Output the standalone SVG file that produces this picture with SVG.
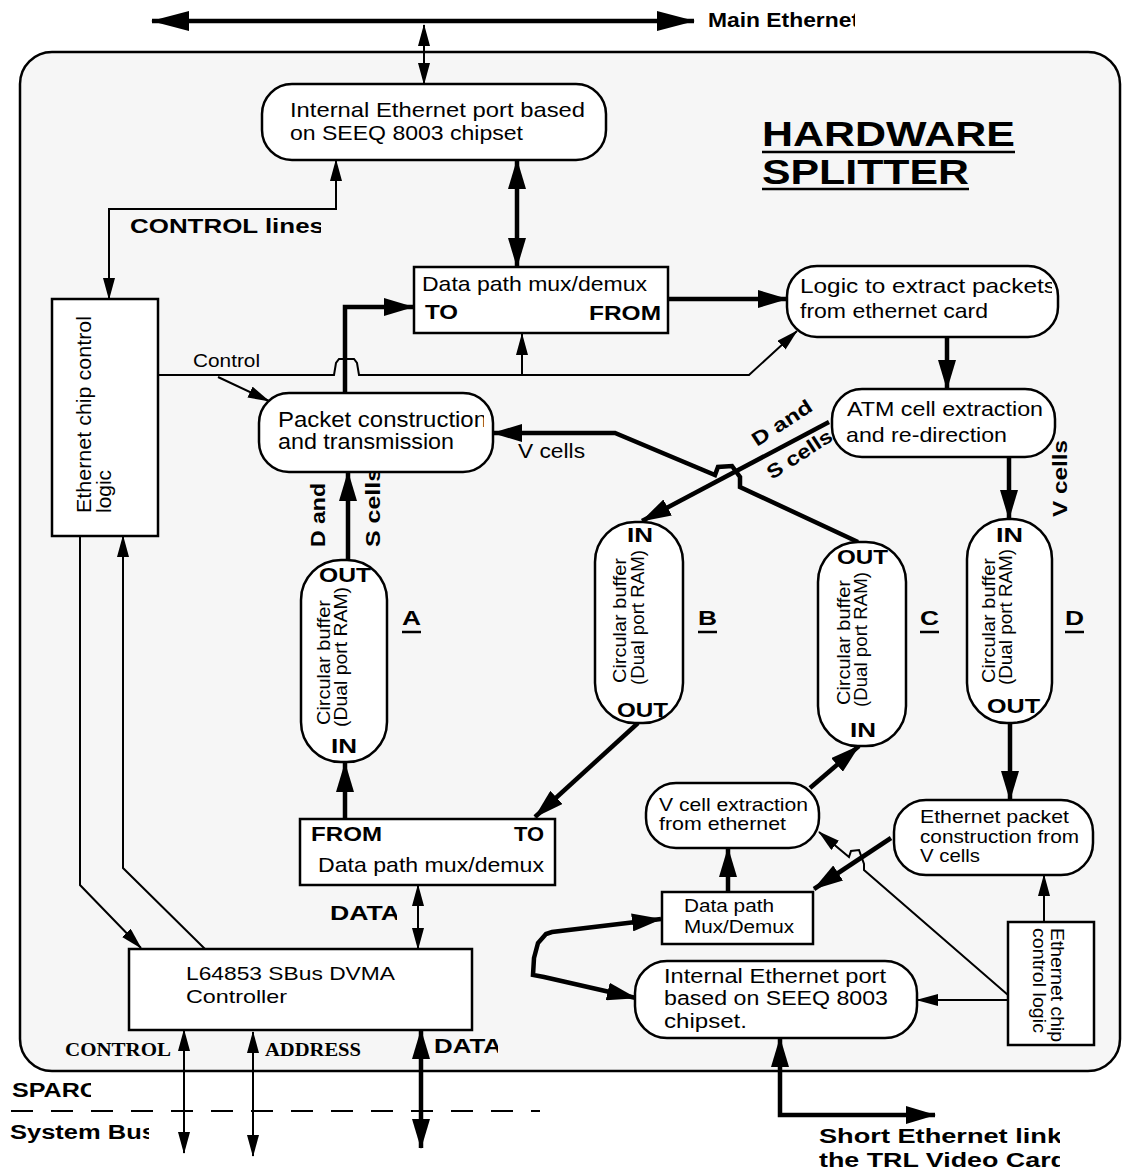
<svg xmlns="http://www.w3.org/2000/svg" width="1122" height="1173" viewBox="0 0 1122 1173">
<style>
.n{fill:#fff;stroke:#000;stroke-width:2.5}
.t{font-family:"Liberation Sans",Arial,sans-serif;font-size:21px;fill:#000}
.m{font-family:"Liberation Sans",Arial,sans-serif;font-size:18.5px;fill:#000}
.b{font-family:"Liberation Sans",Arial,sans-serif;font-weight:bold;font-size:19.5px;fill:#000}
.s{font-family:"Liberation Serif","Times New Roman",serif;font-weight:bold;font-size:18px;fill:#000}
.k{fill:none;stroke:#000;stroke-width:4.5}
.w{fill:none;stroke:#000;stroke-width:2}
.ul{stroke:#000;stroke-width:2.5}
</style>
<defs>
<marker id="mT" viewBox="0 0 30 18" markerWidth="30" markerHeight="18" refX="29" refY="9" markerUnits="userSpaceOnUse" orient="auto-start-reverse"><path d="M0,0 L30,9 L0,18 Z"/></marker>
<marker id="mt" viewBox="0 0 22 12" markerWidth="22" markerHeight="12" refX="21" refY="6" markerUnits="userSpaceOnUse" orient="auto-start-reverse"><path d="M0,0 L22,6 L0,12 Z"/></marker>
<marker id="mB" viewBox="0 0 38 20" markerWidth="38" markerHeight="20" refX="37" refY="10" markerUnits="userSpaceOnUse" orient="auto-start-reverse"><path d="M0,0 L38,10 L0,20 Z"/></marker>
<clipPath id="c1"><rect x="700" y="0" width="155" height="40"/></clipPath>
<clipPath id="c2"><rect x="120" y="210" width="201" height="30"/></clipPath>
<clipPath id="c3"><rect x="790" y="270" width="262" height="30"/></clipPath>
<clipPath id="c4"><rect x="265" y="405" width="219" height="30"/></clipPath>
<clipPath id="c5"><rect x="320" y="900" width="77" height="30"/></clipPath>
<clipPath id="c6"><rect x="425" y="1030" width="73" height="30"/></clipPath>
<clipPath id="c7"><rect x="0" y="1075" width="91" height="30"/></clipPath>
<clipPath id="c8"><rect x="0" y="1115" width="149" height="30"/></clipPath>
<clipPath id="c9"><rect x="810" y="1120" width="250" height="53"/></clipPath>
</defs>
<rect width="1122" height="1173" fill="#fff"/>

<g id="splitter">
<rect x="20" y="52" width="1100" height="1019" rx="32" fill="#f6f6f6" stroke="#000" stroke-width="2.5"/>
<text class="b" x="762" y="146" style="font-size:35px" textLength="253" lengthAdjust="spacingAndGlyphs">HARDWARE</text>
<line class="ul" x1="762" y1="152" x2="1015" y2="152" stroke-width="3"/>
<text class="b" x="762" y="184" style="font-size:35px" textLength="207" lengthAdjust="spacingAndGlyphs">SPLITTER</text>
<line class="ul" x1="762" y1="189" x2="969" y2="189" stroke-width="3"/>
</g>

<g id="connectors">
<line class="k" x1="152" y1="21" x2="694" y2="21" marker-start="url(#mB)" marker-end="url(#mB)"/>
<line class="w" x1="424" y1="25" x2="424" y2="84" marker-start="url(#mt)" marker-end="url(#mt)"/>
<line class="k" x1="517" y1="160" x2="517" y2="267" marker-start="url(#mT)" marker-end="url(#mT)"/>
<polyline class="w" points="336,160 336,209 109,209 109,299" marker-start="url(#mt)" marker-end="url(#mt)"/>
<polyline class="k" points="345,393 345,307 413,307" marker-end="url(#mT)"/>
<line class="k" x1="668" y1="299" x2="787" y2="299" marker-end="url(#mT)"/>
<line class="k" x1="947" y1="337" x2="947" y2="389" marker-end="url(#mT)"/>
<path class="w" d="M158,375 L334,375 L336,363 L339,359 L354,359 L357,363 L359,375 L749,375 L797,331" marker-end="url(#mt)"/>
<line class="w" x1="522" y1="375" x2="522" y2="334" marker-end="url(#mt)"/>
<line class="w" x1="218" y1="377" x2="269" y2="401" marker-end="url(#mt)"/>
<polyline class="k" points="858,542 740,487 740,477 732,466 718,467 715,475 615,433 493,433" marker-end="url(#mT)"/>
<line class="k" x1="829" y1="422" x2="642" y2="521" marker-end="url(#mT)"/>
<line class="k" x1="1009" y1="457" x2="1009" y2="519" marker-end="url(#mT)"/>
<line class="k" x1="348" y1="560" x2="348" y2="472" marker-end="url(#mT)"/>
<line class="k" x1="345" y1="819" x2="345" y2="763" marker-end="url(#mT)"/>
<line class="k" x1="638" y1="723" x2="535" y2="817" marker-end="url(#mT)"/>
<line class="k" x1="810" y1="788" x2="859" y2="746" marker-end="url(#mT)"/>
<line class="k" x1="1010" y1="723" x2="1010" y2="800" marker-end="url(#mT)"/>
<line class="k" x1="728" y1="892" x2="728" y2="848" marker-end="url(#mT)"/>
<line class="k" x1="891" y1="838" x2="814" y2="889" marker-end="url(#mT)"/>
<polyline class="w" points="1008,995 864,870 864,864 859,850 851,851 849,857 819,832" marker-end="url(#mt)"/>
<line class="w" x1="1008" y1="1000" x2="917" y2="1000" marker-end="url(#mt)"/>
<line class="w" x1="1044" y1="922" x2="1044" y2="875" marker-end="url(#mt)"/>
<polyline class="k" points="661,919 552,932 546,934 538,943 534,958 533,975 544,977 636,998" marker-start="url(#mT)" marker-end="url(#mT)"/>
<polyline class="k" points="780,1038 780,1115 935,1115" marker-start="url(#mT)" marker-end="url(#mT)"/>
<line class="w" x1="418" y1="885" x2="418" y2="949" marker-start="url(#mt)" marker-end="url(#mt)"/>
<polyline class="w" points="80,536 80,885 141,948" marker-end="url(#mt)"/>
<polyline class="w" points="205,949 123,868 123,536" marker-end="url(#mt)"/>
<line class="w" x1="184" y1="1030" x2="184" y2="1153" marker-start="url(#mt)" marker-end="url(#mt)"/>
<line class="w" x1="253" y1="1032" x2="253" y2="1156" marker-start="url(#mt)" marker-end="url(#mt)"/>
<line class="k" x1="421" y1="1030" x2="421" y2="1148" marker-start="url(#mT)" marker-end="url(#mT)"/>
<line x1="11" y1="1111" x2="540" y2="1111" stroke="#000" stroke-width="2" stroke-dasharray="22 18"/>
</g>

<g id="labels">
<text class="b" x="708" y="27" clip-path="url(#c1)" textLength="151" lengthAdjust="spacingAndGlyphs">Main Ethernet</text>
<text class="b" x="130" y="233" clip-path="url(#c2)" textLength="194" lengthAdjust="spacingAndGlyphs">CONTROL lines</text>
<text class="m" x="193" y="367" textLength="67" lengthAdjust="spacingAndGlyphs">Control</text>
<text class="t" x="518" y="458" style="font-size:20px" textLength="67" lengthAdjust="spacingAndGlyphs">V cells</text>
<text class="b" transform="translate(325,547) rotate(-90)" textLength="64" lengthAdjust="spacingAndGlyphs">D and</text>
<text class="b" transform="translate(380,547) rotate(-90)" textLength="79" lengthAdjust="spacingAndGlyphs">S cells</text>
<text class="b" transform="translate(1067,517) rotate(-90)" textLength="77" lengthAdjust="spacingAndGlyphs">V cells</text>
<text class="b" x="330" y="920" clip-path="url(#c5)" textLength="70" lengthAdjust="spacingAndGlyphs">DATA</text>
<text class="s" x="65" y="1056" textLength="106" lengthAdjust="spacingAndGlyphs">CONTROL</text>
<text class="s" x="265" y="1056" textLength="96" lengthAdjust="spacingAndGlyphs">ADDRESS</text>
<text class="b" x="434" y="1053" clip-path="url(#c6)" textLength="68" lengthAdjust="spacingAndGlyphs">DATA</text>
<text class="b" x="12" y="1097" clip-path="url(#c7)" textLength="86" lengthAdjust="spacingAndGlyphs">SPARC</text>
<text class="b" x="10" y="1139" clip-path="url(#c8)" textLength="146" lengthAdjust="spacingAndGlyphs">System Bus</text>
<text class="b" x="819" y="1143" style="font-size:20px" clip-path="url(#c9)" textLength="243" lengthAdjust="spacingAndGlyphs">Short Ethernet link</text>
<text class="b" x="819" y="1167" style="font-size:20px" clip-path="url(#c9)" textLength="248" lengthAdjust="spacingAndGlyphs">the TRL Video Card</text>
</g>

<g id="iep-top">
<rect class="n" x="262" y="84" width="344" height="76" rx="30"/>
<text class="t" x="290" y="117" textLength="295" lengthAdjust="spacingAndGlyphs">Internal Ethernet port based</text>
<text class="t" x="290" y="140" textLength="233" lengthAdjust="spacingAndGlyphs">on SEEQ 8003 chipset</text>
</g>

<g id="datapath-top">
<rect class="n" x="414" y="267" width="254" height="66"/>
<text class="t" x="422" y="291" textLength="225" lengthAdjust="spacingAndGlyphs">Data path mux/demux</text>
<text class="b" x="425" y="319" textLength="33" lengthAdjust="spacingAndGlyphs">TO</text>
<text class="b" x="589" y="320" textLength="72" lengthAdjust="spacingAndGlyphs">FROM</text>
</g>

<g id="logic">
<rect class="n" x="787" y="266" width="271" height="71" rx="30"/>
<text class="t" x="800" y="293" clip-path="url(#c3)" textLength="256" lengthAdjust="spacingAndGlyphs">Logic to extract packets</text>
<text class="t" x="800" y="318" textLength="188" lengthAdjust="spacingAndGlyphs">from ethernet card</text>
</g>

<g id="atm">
<rect class="n" x="832" y="389" width="223" height="68" rx="30"/>
<text class="t" x="847" y="416" textLength="196" lengthAdjust="spacingAndGlyphs">ATM cell extraction</text>
<text class="t" x="846" y="442" textLength="161" lengthAdjust="spacingAndGlyphs">and re-direction</text>
</g>

<g id="packet">
<rect class="n" x="259" y="393" width="234" height="79" rx="30"/>
<text class="t" x="278" y="427" style="font-size:21.5px" clip-path="url(#c4)" textLength="209" lengthAdjust="spacingAndGlyphs">Packet construction</text>
<text class="t" x="278" y="449" style="font-size:21.5px" textLength="176" lengthAdjust="spacingAndGlyphs">and transmission</text>
</g>

<g id="eth-ctrl-left">
<rect class="n" x="52" y="299" width="106" height="237"/>
<text class="t" transform="translate(91,513) rotate(-90)" textLength="197" lengthAdjust="spacingAndGlyphs">Ethernet chip control</text>
<text class="t" transform="translate(111,513) rotate(-90)" textLength="43" lengthAdjust="spacingAndGlyphs">logic</text>
</g>

<g id="buffer-a">
<rect class="n" x="301" y="560" width="86" height="202" rx="40"/>
<text class="b" x="319" y="582" style="font-size:21px" textLength="52" lengthAdjust="spacingAndGlyphs">OUT</text>
<text class="b" x="331" y="753" style="font-size:21px" textLength="26" lengthAdjust="spacingAndGlyphs">IN</text>
<text class="m" transform="translate(330,725) rotate(-90)" textLength="125" lengthAdjust="spacingAndGlyphs">Circular buffer</text>
<text class="m" transform="translate(347,727) rotate(-90)" textLength="140" lengthAdjust="spacingAndGlyphs">(Dual port RAM)</text>
<text class="b" x="402" y="625" style="font-size:21px" textLength="19" lengthAdjust="spacingAndGlyphs">A</text>
<line class="ul" x1="402" y1="632" x2="421" y2="632" stroke-width="2"/>
</g>

<g id="buffer-b">
<rect class="n" x="595" y="522" width="88" height="201" rx="40"/>
<text class="b" x="627" y="542" style="font-size:21px" textLength="26" lengthAdjust="spacingAndGlyphs">IN</text>
<text class="b" x="617" y="717" style="font-size:21px" textLength="51" lengthAdjust="spacingAndGlyphs">OUT</text>
<text class="m" transform="translate(626,683) rotate(-90)" textLength="125" lengthAdjust="spacingAndGlyphs">Circular buffer</text>
<text class="m" transform="translate(644,685) rotate(-90)" textLength="135" lengthAdjust="spacingAndGlyphs">(Dual port RAM)</text>
<text class="b" x="698" y="625" style="font-size:21px" textLength="19" lengthAdjust="spacingAndGlyphs">B</text>
<line class="ul" x1="698" y1="632" x2="717" y2="632" stroke-width="2"/>
</g>

<g id="buffer-c">
<rect class="n" x="818" y="542" width="88" height="204" rx="40"/>
<text class="b" x="837" y="564" style="font-size:21px" textLength="51" lengthAdjust="spacingAndGlyphs">OUT</text>
<text class="b" x="850" y="737" style="font-size:21px" textLength="26" lengthAdjust="spacingAndGlyphs">IN</text>
<text class="m" transform="translate(850,705) rotate(-90)" textLength="125" lengthAdjust="spacingAndGlyphs">Circular buffer</text>
<text class="m" transform="translate(867,707) rotate(-90)" textLength="135" lengthAdjust="spacingAndGlyphs">(Dual port RAM)</text>
<text class="b" x="920" y="625" style="font-size:21px" textLength="19" lengthAdjust="spacingAndGlyphs">C</text>
<line class="ul" x1="920" y1="632" x2="939" y2="632" stroke-width="2"/>
</g>

<g id="buffer-d">
<rect class="n" x="967" y="519" width="85" height="204" rx="40"/>
<text class="b" x="996" y="542" style="font-size:21px" textLength="27" lengthAdjust="spacingAndGlyphs">IN</text>
<text class="b" x="987" y="713" style="font-size:21px" textLength="53" lengthAdjust="spacingAndGlyphs">OUT</text>
<text class="m" transform="translate(995,683) rotate(-90)" textLength="125" lengthAdjust="spacingAndGlyphs">Circular buffer</text>
<text class="m" transform="translate(1012,685) rotate(-90)" textLength="136" lengthAdjust="spacingAndGlyphs">(Dual port RAM)</text>
<text class="b" x="1065" y="625" style="font-size:21px" textLength="19" lengthAdjust="spacingAndGlyphs">D</text>
<line class="ul" x1="1065" y1="632" x2="1084" y2="632" stroke-width="2"/>
</g>

<g id="datapath-bottom">
<rect class="n" x="300" y="819" width="255" height="66"/>
<text class="b" x="311" y="841" textLength="71" lengthAdjust="spacingAndGlyphs">FROM</text>
<text class="b" x="514" y="841" textLength="30" lengthAdjust="spacingAndGlyphs">TO</text>
<text class="t" x="318" y="872" textLength="226" lengthAdjust="spacingAndGlyphs">Data path mux/demux</text>
</g>

<g id="sbus">
<rect class="n" x="129" y="949" width="343" height="81"/>
<text class="m" x="186" y="980" textLength="209" lengthAdjust="spacingAndGlyphs">L64853 SBus DVMA</text>
<text class="m" x="186" y="1003" textLength="101" lengthAdjust="spacingAndGlyphs">Controller</text>
</g>

<g id="vcell-extraction">
<rect class="n" x="646" y="783" width="173" height="65" rx="30"/>
<text class="m" x="659" y="811" textLength="149" lengthAdjust="spacingAndGlyphs">V cell extraction</text>
<text class="m" x="659" y="830" textLength="127" lengthAdjust="spacingAndGlyphs">from ethernet</text>
</g>

<g id="eth-packet-construction">
<rect class="n" x="894" y="800" width="199" height="75" rx="32"/>
<text class="m" x="920" y="823" textLength="149" lengthAdjust="spacingAndGlyphs">Ethernet packet</text>
<text class="m" x="920" y="843" textLength="159" lengthAdjust="spacingAndGlyphs">construction from</text>
<text class="m" x="920" y="862" textLength="60" lengthAdjust="spacingAndGlyphs">V cells</text>
</g>

<g id="datapath-small">
<rect class="n" x="662" y="892" width="151" height="52"/>
<text class="m" x="684" y="912" style="font-size:17.5px" textLength="90" lengthAdjust="spacingAndGlyphs">Data path</text>
<text class="m" x="684" y="933" style="font-size:17.5px" textLength="110" lengthAdjust="spacingAndGlyphs">Mux/Demux</text>
</g>

<g id="iep-bottom">
<rect class="n" x="635" y="961" width="282" height="77" rx="32"/>
<text class="t" x="664" y="983" style="font-size:19.5px" textLength="222" lengthAdjust="spacingAndGlyphs">Internal Ethernet port</text>
<text class="t" x="664" y="1005" style="font-size:19.5px" textLength="224" lengthAdjust="spacingAndGlyphs">based on SEEQ 8003</text>
<text class="t" x="664" y="1028" style="font-size:19.5px" textLength="83" lengthAdjust="spacingAndGlyphs">chipset.</text>
</g>

<g id="eth-ctrl-small">
<rect class="n" x="1008" y="922" width="86" height="123"/>
<text class="m" transform="translate(1051,928) rotate(90)" textLength="114" lengthAdjust="spacingAndGlyphs">Ethernet chip</text>
<text class="m" transform="translate(1033,928) rotate(90)" textLength="105" lengthAdjust="spacingAndGlyphs">control logic</text>
</g>

<g id="diag-labels">
<text class="b" transform="translate(757,447) rotate(-33)" textLength="68" lengthAdjust="spacingAndGlyphs">D and</text>
<text class="b" transform="translate(772,480) rotate(-33)" textLength="74" lengthAdjust="spacingAndGlyphs">S cells</text>
</g>
</svg>
